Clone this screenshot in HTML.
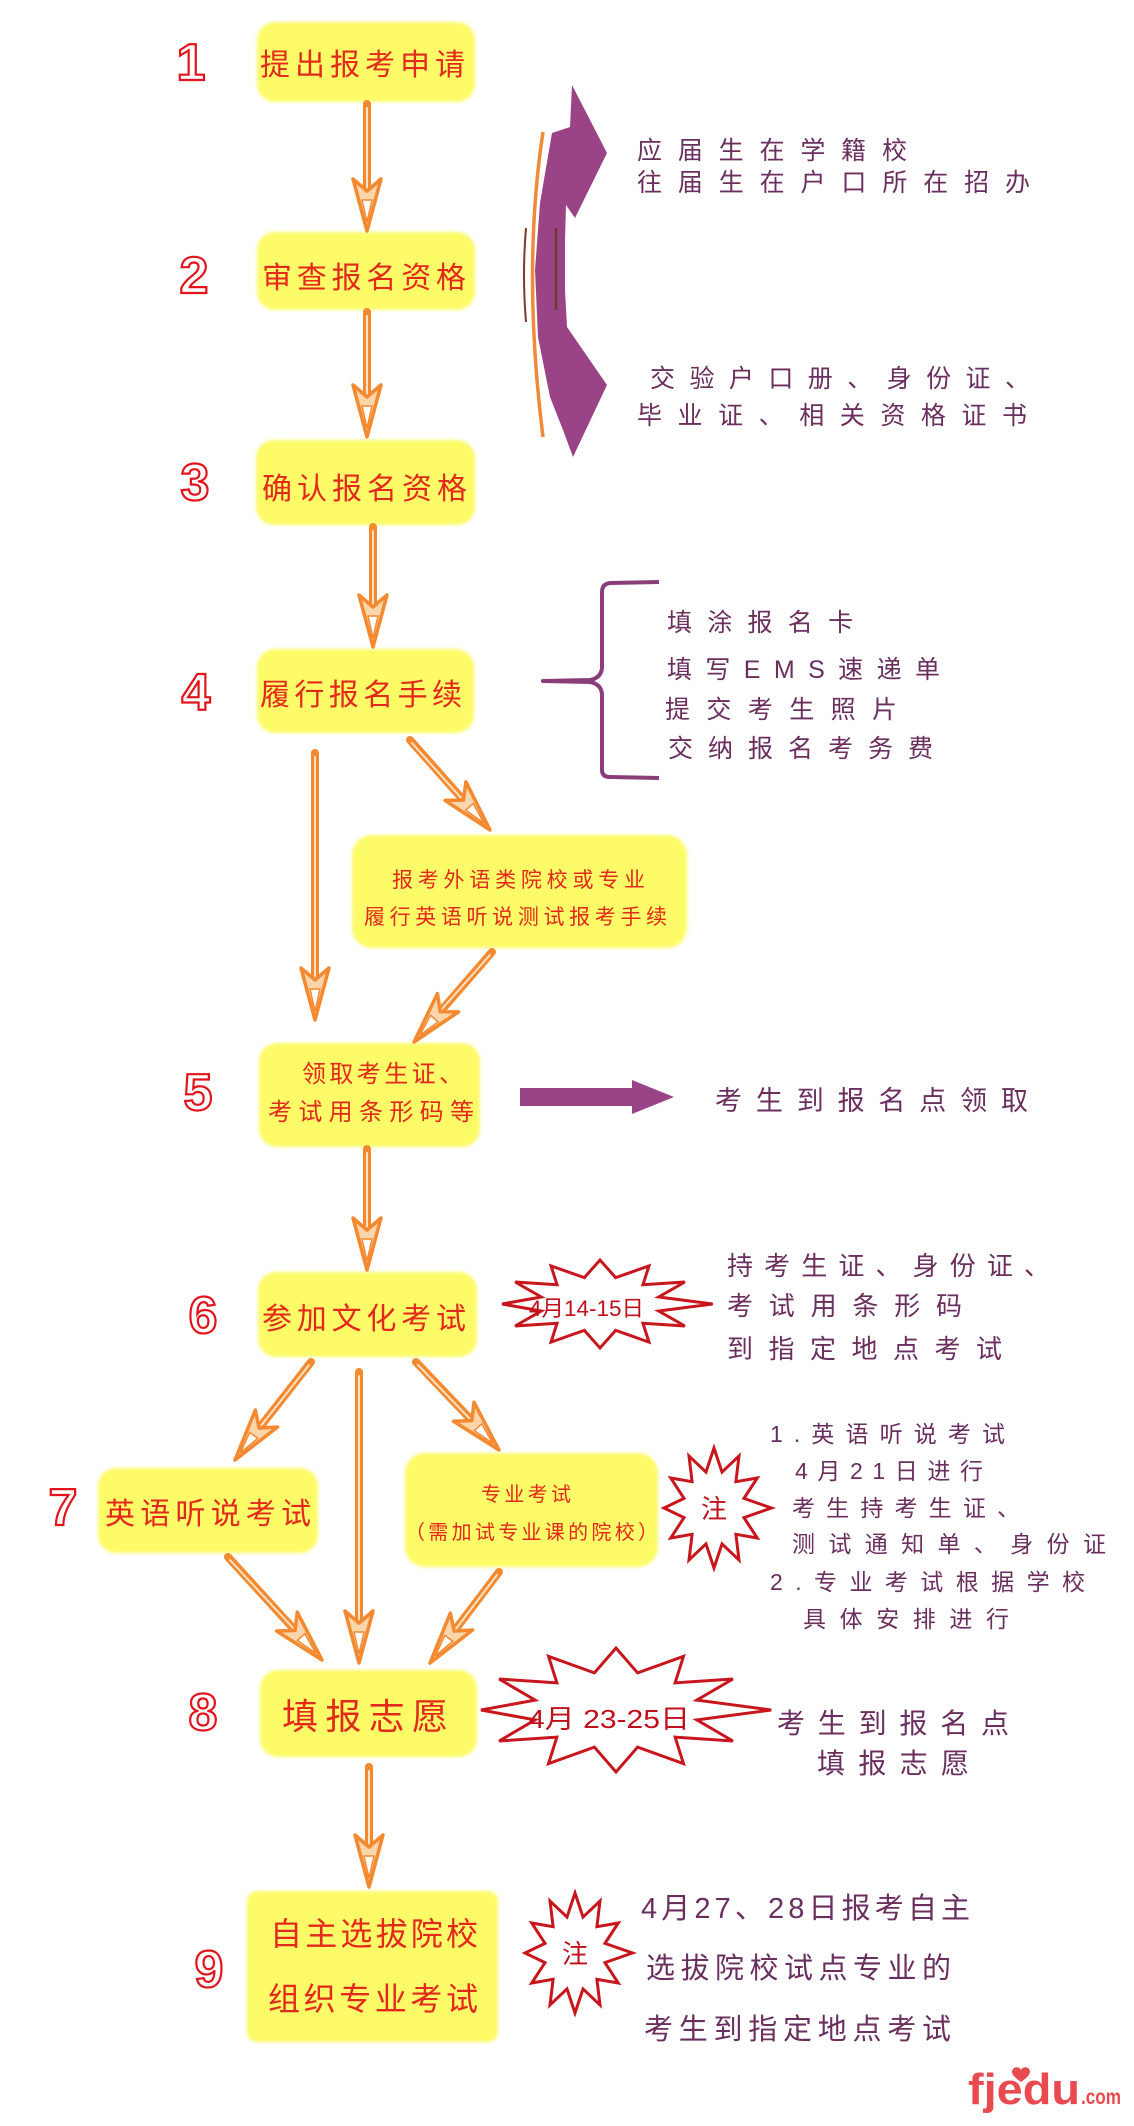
<!DOCTYPE html>
<html>
<head>
<meta charset="utf-8">
<style>
html,body{margin:0;padding:0;background:#fff;}
svg{display:block;}
.r{font-family:"Liberation Sans","Noto Sans CJK SC",sans-serif;fill:#e2291b;}
.p{font-family:"Liberation Sans","Noto Sans CJK SC",sans-serif;fill:#6a2f5e;}
.n{font-family:"Liberation Sans Narrow","Liberation Sans",sans-serif;font-weight:bold;fill:#fff;stroke:#e3141c;stroke-width:2.2;font-size:52px;text-anchor:middle;}
.s{font-family:"Liberation Sans Narrow","Liberation Sans","Noto Sans CJK SC",sans-serif;fill:#c0101c;}
</style>
</head>
<body>
<svg width="1134" height="2126" viewBox="0 0 1134 2126" xmlns="http://www.w3.org/2000/svg">
<defs>
  <filter id="soft" x="-5%" y="-5%" width="110%" height="110%"><feGaussianBlur stdDeviation="1.6"/></filter>
  <g id="ah">
    <polygon points="0,0 -14,-52 0,-40 14,-52" fill="#fcd6ab" stroke="#f4892f" stroke-width="3.5" stroke-linejoin="round"/>
    <polygon points="0,-9 -5,-31 5,-31" fill="#fff" stroke="#f4892f" stroke-width="1.5"/>
  </g>
</defs>

<!-- Yellow boxes -->
<g fill="#fdfb68" filter="url(#soft)">
  <rect x="257" y="22" width="218" height="80" rx="18"/>
  <rect x="257" y="232" width="218" height="78" rx="18"/>
  <rect x="256" y="440" width="219" height="85" rx="18"/>
  <rect x="257" y="649" width="217" height="84" rx="18"/>
  <rect x="352" y="835" width="335" height="113" rx="20"/>
  <rect x="259" y="1043" width="221" height="104" rx="18"/>
  <rect x="258" y="1272" width="219" height="85" rx="18"/>
  <rect x="98" y="1468" width="220" height="85" rx="18"/>
  <rect x="405" y="1453" width="253" height="114" rx="20"/>
  <rect x="260" y="1670" width="217" height="87" rx="18"/>
  <rect x="247" y="1891" width="251" height="151" rx="10"/>
</g>

<!-- Step numbers -->
<text class="n" x="191" y="80">1</text>
<text class="n" x="194" y="293">2</text>
<text class="n" x="195" y="500">3</text>
<text class="n" x="196" y="710">4</text>
<text class="n" x="198" y="1110">5</text>
<text class="n" x="203" y="1333">6</text>
<text class="n" x="63" y="1525">7</text>
<text class="n" x="203" y="1730">8</text>
<text class="n" x="209" y="1987">9</text>

<!-- Box texts -->
<text class="r" x="260" y="75" font-size="30" textLength="205" lengthAdjust="spacing">提出报考申请</text>
<text class="r" x="262" y="288" font-size="30" textLength="204" lengthAdjust="spacing">审查报名资格</text>
<text class="r" x="262" y="499" font-size="30" textLength="205" lengthAdjust="spacing">确认报名资格</text>
<text class="r" x="260" y="705" font-size="30" textLength="202" lengthAdjust="spacing">履行报名手续</text>
<text class="r" x="392" y="887" font-size="21" textLength="253" lengthAdjust="spacing">报考外语类院校或专业</text>
<text class="r" x="364" y="924" font-size="21" textLength="303" lengthAdjust="spacing">履行英语听说测试报考手续</text>
<text class="r" x="302" y="1082" font-size="24" textLength="161" lengthAdjust="spacing">领取考生证、</text>
<text class="r" x="268" y="1120" font-size="24" textLength="206" lengthAdjust="spacing">考试用条形码等</text>
<text class="r" x="262" y="1329" font-size="30" textLength="204" lengthAdjust="spacing">参加文化考试</text>
<text class="r" x="105" y="1524" font-size="30" textLength="206" lengthAdjust="spacing">英语听说考试</text>
<text class="r" x="481" y="1501" font-size="20" textLength="90" lengthAdjust="spacing">专业考试</text>
<text class="r" x="405" y="1539" font-size="20" textLength="253" lengthAdjust="spacing">（需加试专业课的院校）</text>
<text class="r" x="282" y="1729" font-size="36" textLength="166" lengthAdjust="spacing">填报志愿</text>
<text class="r" x="270" y="1945" font-size="32" textLength="208" lengthAdjust="spacing">自主选拔院校</text>
<text class="r" x="268" y="2010" font-size="32" textLength="210" lengthAdjust="spacing">组织专业考试</text>

<!-- Orange arrows: shafts -->
<g stroke="#f4892f" stroke-width="8" stroke-linecap="round">
  <line x1="367" y1="104" x2="367" y2="192"/>
  <line x1="367" y1="312" x2="367" y2="398"/>
  <line x1="373" y1="527" x2="373" y2="608"/>
  <line x1="315" y1="753" x2="315" y2="981"/>
  <line x1="410" y1="740" x2="463.4" y2="800.1"/>
  <line x1="492" y1="952" x2="440.2" y2="1011.8"/>
  <line x1="367" y1="1149" x2="367" y2="1231"/>
  <line x1="311" y1="1362" x2="259.2" y2="1428.2"/>
  <line x1="359" y1="1372" x2="359" y2="1624"/>
  <line x1="416" y1="1362" x2="471.9" y2="1420.6"/>
  <line x1="228" y1="1557" x2="295" y2="1630.4"/>
  <line x1="499" y1="1572" x2="454.2" y2="1631.1"/>
  <line x1="369" y1="1767" x2="369" y2="1848"/>
</g>
<g stroke="#fde2c4" stroke-width="2" stroke-linecap="round">
  <line x1="367" y1="108" x2="367" y2="190"/>
  <line x1="367" y1="316" x2="367" y2="396"/>
  <line x1="373" y1="531" x2="373" y2="606"/>
  <line x1="315" y1="757" x2="315" y2="979"/>
  <line x1="412" y1="743" x2="462" y2="799"/>
  <line x1="490" y1="955" x2="441" y2="1010"/>
  <line x1="367" y1="1153" x2="367" y2="1229"/>
  <line x1="309" y1="1365" x2="260" y2="1427"/>
  <line x1="359" y1="1376" x2="359" y2="1622"/>
  <line x1="418" y1="1365" x2="470" y2="1419"/>
  <line x1="230" y1="1560" x2="294" y2="1629"/>
  <line x1="497" y1="1575" x2="455" y2="1630"/>
  <line x1="369" y1="1771" x2="369" y2="1846"/>
</g>
<!-- Orange arrowheads -->
<use href="#ah" transform="translate(367,231)"/>
<use href="#ah" transform="translate(367,437)"/>
<use href="#ah" transform="translate(373,647)"/>
<use href="#ah" transform="translate(315,1020)"/>
<use href="#ah" transform="translate(490,830) rotate(-41.6)"/>
<use href="#ah" transform="translate(414,1042) rotate(40.9)"/>
<use href="#ah" transform="translate(367,1270)"/>
<use href="#ah" transform="translate(235,1460) rotate(37.2)"/>
<use href="#ah" transform="translate(359,1663)"/>
<use href="#ah" transform="translate(499,1450) rotate(-42.7)"/>
<use href="#ah" transform="translate(322,1660) rotate(-42.4)"/>
<use href="#ah" transform="translate(430,1663) rotate(37.2)"/>
<use href="#ah" transform="translate(369,1887)"/>

<!-- Purple C double arrow -->
<path d="M543,132 Q522,270 543,437" fill="none" stroke="#ef8a3c" stroke-width="3.5"/>
<path d="M526,228 Q522,275 526,322" fill="none" stroke="#7a3b2e" stroke-width="2"/>
<polygon fill="#9a4487" points="572,85 607,153 575,218 566,205 565,240 565,290 567,327 607,385 573,457 563,430 550,397 538,337 535,270 540,203 552,133 570,127"/>
<path d="M556,228 L556,310" stroke="#6e3a2c" stroke-width="2.5"/>

<!-- Purple texts top -->
<text class="p" x="637" y="159" font-size="25" textLength="270" lengthAdjust="spacing">应届生在学籍校</text>
<text class="p" x="637" y="191" font-size="25" textLength="393" lengthAdjust="spacing">往届生在户口所在招办</text>
<text class="p" x="650" y="387" font-size="25" textLength="380" lengthAdjust="spacing">交验户口册、身份证、</text>
<text class="p" x="637" y="424" font-size="25" textLength="390" lengthAdjust="spacing">毕业证、相关资格证书</text>

<!-- Bracket -->
<path d="M659,582 L610,583 Q602,584 602,592 L602,668 Q601,678 590,680 L543,681 L590,682 Q601,684 602,694 L602,770 Q602,777 610,777 L659,778" fill="none" stroke="#8b3d7a" stroke-width="4" stroke-linejoin="round"/>
<text class="p" x="667" y="631" font-size="25" textLength="186" lengthAdjust="spacing">填涂报名卡</text>
<text class="p" x="667" y="678" font-size="25" textLength="273" lengthAdjust="spacing">填写EMS速递单</text>
<text class="p" x="665" y="718" font-size="25" textLength="232" lengthAdjust="spacing">提交考生照片</text>
<text class="p" x="668" y="757" font-size="25" textLength="265" lengthAdjust="spacing">交纳报名考务费</text>

<!-- Purple right arrow -->
<polygon fill="#9a4487" points="520,1088 632,1088 632,1080 674,1097 632,1114 632,1106 520,1106"/>
<text class="p" x="715" y="1110" font-size="27" textLength="313" lengthAdjust="spacing">考生到报名点领取</text>

<!-- Starbursts -->
<g fill="#fff" stroke="#c8161d" stroke-width="3" stroke-linejoin="miter">
  <polygon vector-effect="non-scaling-stroke" transform="translate(600,1304) scale(98,44)" points="1.15,0 0.599,0.160 0.866,0.5 0.438,0.438 0.5,0.866 0.160,0.599 0,1 -0.160,0.599 -0.5,0.866 -0.438,0.438 -0.866,0.5 -0.599,0.160 -1,0 -0.599,-0.160 -0.866,-0.5 -0.438,-0.438 -0.5,-0.866 -0.160,-0.599 0,-1 0.160,-0.599 0.5,-0.866 0.438,-0.438 0.866,-0.5 0.599,-0.160"/>
  <polygon vector-effect="non-scaling-stroke" transform="translate(714,1508) scale(50,60)" points="1.15,0 0.599,0.160 0.866,0.5 0.438,0.438 0.5,0.866 0.160,0.599 0,1 -0.160,0.599 -0.5,0.866 -0.438,0.438 -0.866,0.5 -0.599,0.160 -1,0 -0.599,-0.160 -0.866,-0.5 -0.438,-0.438 -0.5,-0.866 -0.160,-0.599 0,-1 0.160,-0.599 0.5,-0.866 0.438,-0.438 0.866,-0.5 0.599,-0.160"/>
  <polygon vector-effect="non-scaling-stroke" transform="translate(616,1710) scale(135,62)" points="1.15,0 0.599,0.160 0.866,0.5 0.438,0.438 0.5,0.866 0.160,0.599 0,1 -0.160,0.599 -0.5,0.866 -0.438,0.438 -0.866,0.5 -0.599,0.160 -1,0 -0.599,-0.160 -0.866,-0.5 -0.438,-0.438 -0.5,-0.866 -0.160,-0.599 0,-1 0.160,-0.599 0.5,-0.866 0.438,-0.438 0.866,-0.5 0.599,-0.160"/>
  <polygon vector-effect="non-scaling-stroke" transform="translate(575,1953) scale(50,60)" points="1.15,0 0.599,0.160 0.866,0.5 0.438,0.438 0.5,0.866 0.160,0.599 0,1 -0.160,0.599 -0.5,0.866 -0.438,0.438 -0.866,0.5 -0.599,0.160 -1,0 -0.599,-0.160 -0.866,-0.5 -0.438,-0.438 -0.5,-0.866 -0.160,-0.599 0,-1 0.160,-0.599 0.5,-0.866 0.438,-0.438 0.866,-0.5 0.599,-0.160"/>
</g>
<text class="s" x="529" y="1316" font-size="22" textLength="115" lengthAdjust="spacingAndGlyphs">4月14-15日</text>
<text class="s" x="714" y="1518" font-size="26" text-anchor="middle">注</text>
<text class="s" x="528" y="1728" font-size="26" textLength="162" lengthAdjust="spacingAndGlyphs">4月 23-25日</text>
<text class="s" x="575" y="1963" font-size="26" text-anchor="middle">注</text>

<!-- Right side texts -->
<text class="p" x="727" y="1275" font-size="26" textLength="323" lengthAdjust="spacing">持考生证、身份证、</text>
<text class="p" x="727" y="1315" font-size="26" textLength="235" lengthAdjust="spacing">考试用条形码</text>
<text class="p" x="727" y="1358" font-size="26" textLength="275" lengthAdjust="spacing">到指定地点考试</text>

<text class="p" x="770" y="1442" font-size="23" textLength="235" lengthAdjust="spacing">1.英语听说考试</text>
<text class="p" x="795" y="1479" font-size="23" textLength="188" lengthAdjust="spacing">4月21日进行</text>
<text class="p" x="792" y="1516" font-size="23" textLength="228" lengthAdjust="spacing">考生持考生证、</text>
<text class="p" x="792" y="1552" font-size="23" textLength="314" lengthAdjust="spacing">测试通知单、身份证</text>
<text class="p" x="770" y="1590" font-size="23" textLength="315" lengthAdjust="spacing">2.专业考试根据学校</text>
<text class="p" x="803" y="1627" font-size="23" textLength="206" lengthAdjust="spacing">具体安排进行</text>

<text class="p" x="777" y="1733" font-size="28" textLength="232" lengthAdjust="spacing">考生到报名点</text>
<text class="p" x="817" y="1773" font-size="28" textLength="152" lengthAdjust="spacing">填报志愿</text>

<text class="p" x="641" y="1918" font-size="29" textLength="329" lengthAdjust="spacing">4月27、28日报考自主</text>
<text class="p" x="646" y="1978" font-size="29" textLength="305" lengthAdjust="spacing">选拔院校试点专业的</text>
<text class="p" x="644" y="2039" font-size="29" textLength="307" lengthAdjust="spacing">考生到指定地点考试</text>

<!-- Logo -->
<text x="968" y="2104" font-family="'Liberation Sans',sans-serif" font-weight="bold" font-size="44" fill="#e84a4f" textLength="112" lengthAdjust="spacingAndGlyphs">fjedu</text>
<text x="1081" y="2104" font-family="'Liberation Sans',sans-serif" font-weight="bold" font-size="21" fill="#e84a4f" textLength="40" lengthAdjust="spacingAndGlyphs">.com</text>
<path d="M1021,2082 c-7,-5 -11,-9 -8,-13 c2,-3 7,-2 8,1 c1,-3 6,-4 8,-1 c3,4 -1,8 -8,13z" fill="#e84a4f"/>
</svg>
</body>
</html>
